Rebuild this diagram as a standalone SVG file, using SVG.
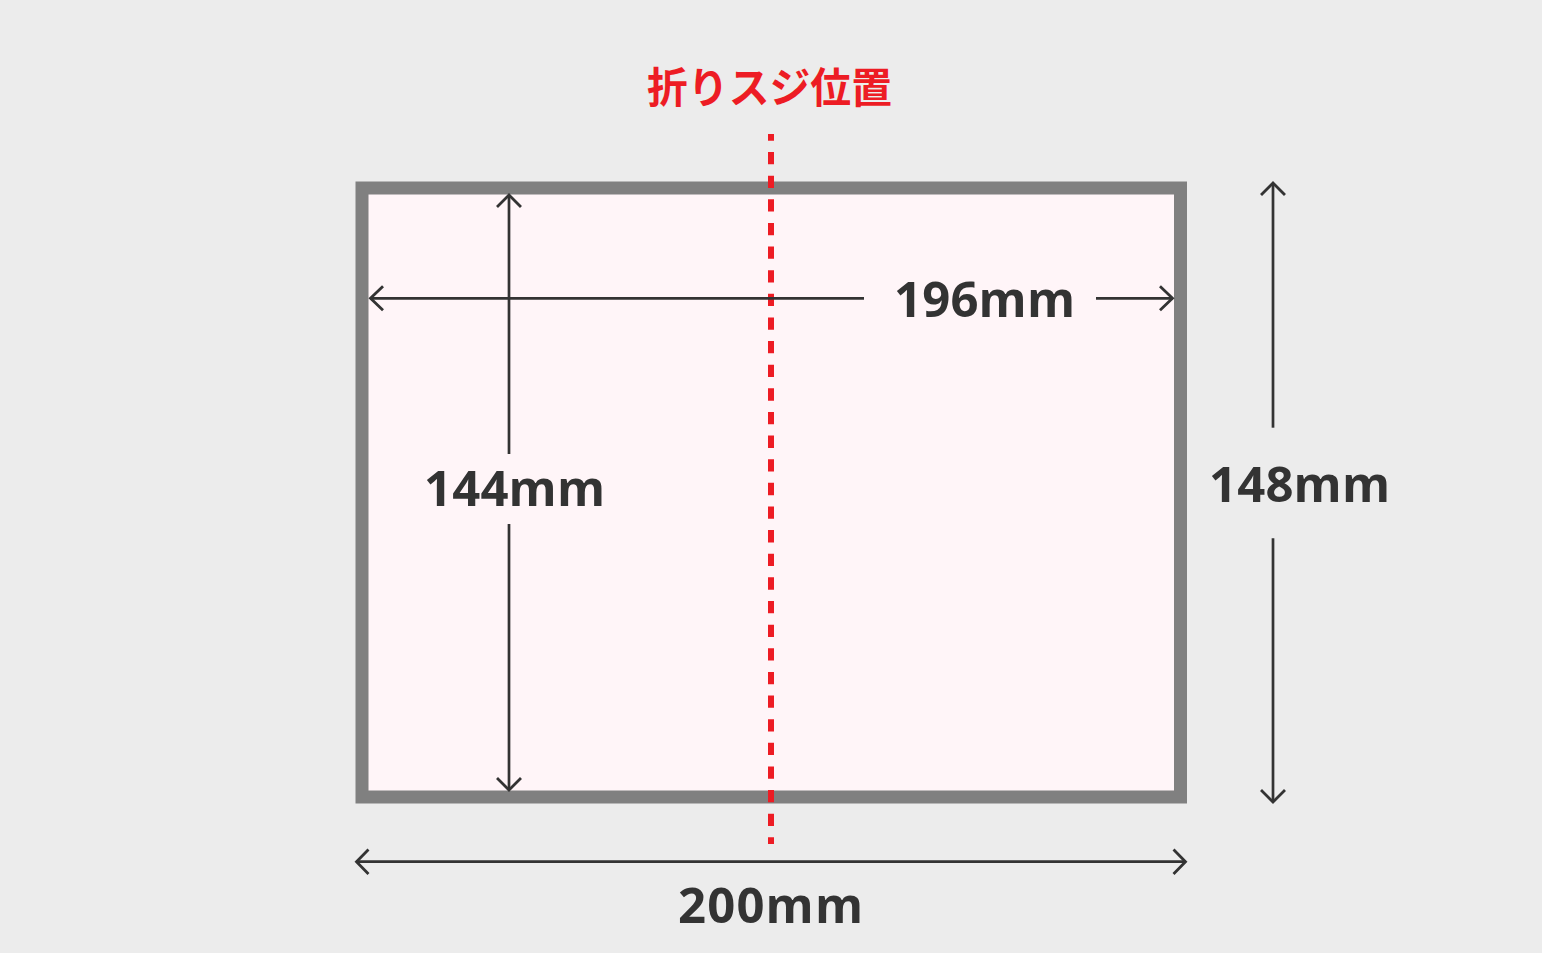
<svg xmlns="http://www.w3.org/2000/svg" width="1542" height="953" viewBox="0 0 1542 953">
<style>
.dim{fill:#333333;font-family:"Open Sans","Liberation Sans",Arial,sans-serif;font-weight:bold;font-size:49px}
.ln{stroke:#333333;stroke-width:2.7;fill:none}
.hd{stroke:#333333;stroke-width:2.8;fill:none;stroke-linecap:square;stroke-linejoin:miter}
</style>
<rect x="0" y="0" width="1542" height="953" fill="#ececec"/>
<g id="sheet">
<rect x="362" y="188" width="818.5" height="609" fill="#fff5f8" stroke="#808080" stroke-width="13"/>
</g>
<g id="fold-line">
<line x1="771" y1="134" x2="771" y2="844" stroke="#ed1c24" stroke-width="6" stroke-dasharray="12.3 11.33" stroke-dashoffset="5.6"/>
<text x="647" y="102.5" textLength="245" lengthAdjust="spacingAndGlyphs" font-family="'Noto Sans CJK JP','Noto Sans CJK SC',sans-serif" font-weight="bold" font-size="42" fill="#ed1c24">折りスジ位置</text>
</g>
<g id="connectors">
<line class="ln" x1="370" y1="298.3" x2="864" y2="298.3"/>
<polyline class="hd" points="382,287.3 370.5,298.3 382,309.3"/>
<line class="ln" x1="1096" y1="298.3" x2="1173" y2="298.3"/>
<polyline class="hd" points="1161,287.3 1172.5,298.3 1161,309.3"/>
<line class="ln" x1="509" y1="195" x2="509" y2="454"/>
<polyline class="hd" points="498,206 509,195 520,206"/>
<line class="ln" x1="509" y1="524" x2="509" y2="790"/>
<polyline class="hd" points="498,779 509,790 520,779"/>
<line class="ln" x1="1273" y1="183" x2="1273" y2="427.7"/>
<polyline class="hd" points="1262,194 1273,183 1284,194"/>
<line class="ln" x1="1273" y1="538.3" x2="1273" y2="802"/>
<polyline class="hd" points="1262,791 1273,802 1284,791"/>
<line class="ln" x1="356" y1="861.7" x2="1186" y2="861.7"/>
<polyline class="hd" points="367.5,850.5 356.5,861.7 367.5,872.9"/>
<polyline class="hd" points="1174.5,850.5 1185.5,861.7 1174.5,872.9"/>
</g>
<g id="labels">
<text class="dim" x="894" y="316.7" textLength="181" lengthAdjust="spacing">196mm</text>
<text class="dim" x="424" y="505.7" textLength="181" lengthAdjust="spacing">144mm</text>
<text class="dim" x="1209" y="502.3" textLength="181" lengthAdjust="spacing">148mm</text>
<text class="dim" x="678" y="922.7" textLength="185" lengthAdjust="spacing">200mm</text>
</g>
</svg>
